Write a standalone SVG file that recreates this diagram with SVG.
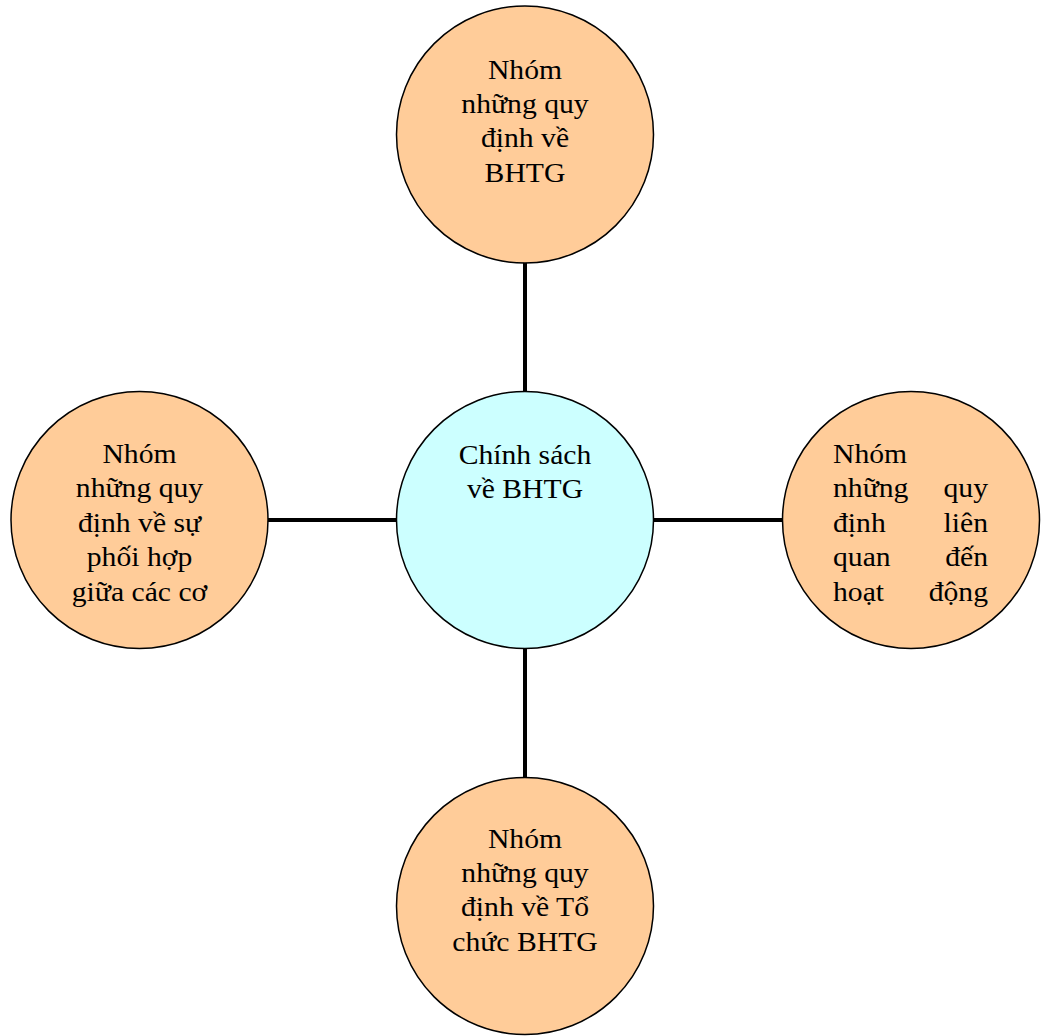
<svg xmlns="http://www.w3.org/2000/svg" width="1043" height="1036" viewBox="0 0 1043 1036">
<style>
.node{stroke:#000;stroke-width:1.5}
.o{fill:#FFCC99}
.c{fill:#CCFFFF}
text{font-family:"Liberation Serif","Times New Roman",serif;font-size:26.5px;fill:#000}
.m{text-anchor:middle}
.e{text-anchor:end}
.conn line{stroke:#000;stroke-width:4}
</style>
<rect width="1043" height="1036" fill="#fff"/>
<g class="conn">
<line x1="525" y1="262" x2="525" y2="393"/>
<line x1="525" y1="647" x2="525" y2="779"/>
<line x1="267" y1="520" x2="398" y2="520"/>
<line x1="652" y1="520" x2="784" y2="520"/>
</g>
<g id="center">
<circle class="node c" cx="525" cy="520" r="128.5"/>
<g transform="translate(525,0) scale(1.12,1)">
<text class="m" x="0" y="464">Chính sách</text>
<text class="m" x="0" y="498">về BHTG</text>
</g>
</g>
<g id="top">
<circle class="node o" cx="525" cy="134.5" r="128.5"/>
<g transform="translate(525,0) scale(1.12,1)">
<text class="m" x="0" y="79">Nhóm</text>
<text class="m" x="0" y="113">những quy</text>
<text class="m" x="0" y="147">định về</text>
<text class="m" x="0" y="182">BHTG</text>
</g>
</g>
<g id="left">
<circle class="node o" cx="139.5" cy="520" r="128.5"/>
<g transform="translate(139.5,0) scale(1.12,1)">
<text class="m" x="0" y="463">Nhóm</text>
<text class="m" x="0" y="497">những quy</text>
<text class="m" x="0" y="532">định về sự</text>
<text class="m" x="0" y="566">phối hợp</text>
<text class="m" x="0" y="601">giữa các cơ</text>
</g>
</g>
<g id="right">
<circle class="node o" cx="911" cy="520" r="128.5"/>
<g transform="translate(833,0) scale(1.12,1)">
<text x="0" y="463">Nhóm</text>
<text x="0" y="497">những</text><text class="e" x="138.4" y="497">quy</text>
<text x="0" y="532">định</text><text class="e" x="138.4" y="532">liên</text>
<text x="0" y="566">quan</text><text class="e" x="138.4" y="566">đến</text>
<text x="0" y="601">hoạt</text><text class="e" x="138.4" y="601">động</text>
</g>
</g>
<g id="bottom">
<circle class="node o" cx="525" cy="906" r="128.5"/>
<g transform="translate(525,0) scale(1.12,1)">
<text class="m" x="0" y="848">Nhóm</text>
<text class="m" x="0" y="882">những quy</text>
<text class="m" x="0" y="916">định về Tổ</text>
<text class="m" x="0" y="951">chức BHTG</text>
</g>
</g>
</svg>
